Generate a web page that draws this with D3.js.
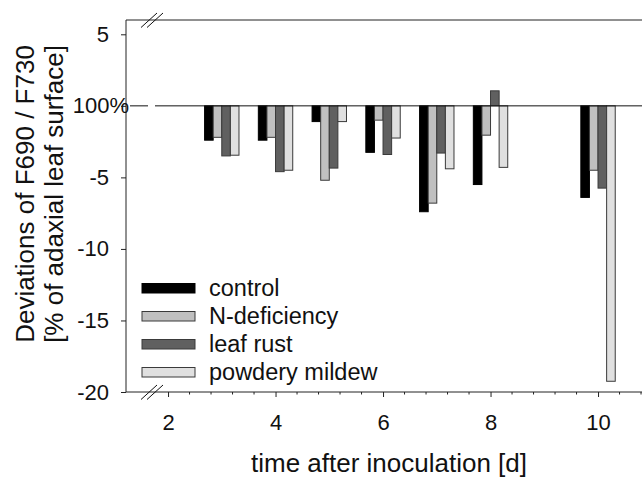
<html>
<head>
<script src="https://d3js.org/d3.v7.min.js"></script>
<style>
  body { margin: 0; background: #fff; }
  text { font-family: "Liberation Sans", Arial, Helvetica, sans-serif; fill: #111; }
</style>
</head>
<body>
<svg width="642" height="477"></svg>
<script>
    // days after inoculation and the four treatments
    const days = [3, 4, 5, 6, 7, 8, 10];
    const seriesNames = ["control", "N-deficiency", "leaf rust", "powdery mildew"];
    const control       = [-2.4, -2.4, -1.1, -3.25, -7.4, -5.5, -6.4];
    const nDeficiency   = [-2.2, -2.2, -5.2, -1.0, -6.8, -2.05, -4.5];
    const leafRust      = [-3.5, -4.6, -4.35, -3.4, -3.3, 1.05, -5.75];
    const powderyMildew = [-3.45, -4.5, -1.1, -2.25, -4.4, -4.3, -19.25];
    const colors = ["#000000", "#c0c0c0", "#606060", "#e0e0e0"];

    const yTicks = [5, 0, -5, -10, -15, -20];
    const yTickLabels = ["5", "100%", "-5", "-10", "-15", "-20"];
    const xTicks = [2, 4, 6, 8, 10];

    const values = [control, nDeficiency, leafRust, powderyMildew];

    const pLeft = 126, pRight = 642, pTop = 20, pBottom = 392;

    const x = d3.scaleLinear().domain([1.218, 10.818]).range([pLeft, pRight]);
    const y = d3.scaleLinear().domain([-20, 6]).range([pBottom, pTop]);
    const band = d3.scaleBand().domain(seriesNames).range([-0.32, 0.32]);

    const svg = d3.select("svg");

    const bars = [];
    days.forEach((d, i) => {
        seriesNames.forEach((s, j) => bars.push({day: d, series: s, idx: j, value: values[j][i]}));
    });

    // bars
    svg.append("g")
        .selectAll("rect")
        .data(bars)
        .enter()
        .append("rect")
        .attr("x", d => x(d.day + band(d.series)))
        .attr("width", d => x(d.day + band(d.series) + band.bandwidth()) - x(d.day + band(d.series)))
        .attr("y", d => y(Math.max(0, d.value)))
        .attr("height", d => Math.abs(y(d.value) - y(0)))
        .attr("fill", d => colors[d.idx])
        .attr("stroke", d => d.idx === 0 ? "#000" : "#3a3a3a")
        .attr("stroke-width", 1);

    // zero line (broken just right of the label)
    const zl = svg.append("g").attr("stroke", "#111").attr("stroke-width", 1);
    zl.append("line").attr("x1", 130).attr("x2", 148).attr("y1", y(0)).attr("y2", y(0));
    zl.append("line").attr("x1", 155).attr("x2", pRight).attr("y1", y(0)).attr("y2", y(0));

    // frame
    const frame = svg.append("g").attr("stroke", "#222").attr("stroke-width", 1).attr("fill", "none");
    frame.append("line").attr("x1", pLeft).attr("x2", pRight).attr("y1", pTop).attr("y2", pTop);
    frame.append("line").attr("x1", pLeft).attr("x2", pLeft).attr("y1", pTop).attr("y2", pBottom);
    frame.append("line").attr("x1", pLeft).attr("x2", pRight).attr("y1", pBottom).attr("y2", pBottom);

    // axis break marks
    [pTop, pBottom].forEach(yy => {
        [141, 147].forEach(xx => {
            frame.append("line")
                .attr("x1", xx).attr("y1", yy + 7.5)
                .attr("x2", xx + 16).attr("y2", yy - 7)
                .attr("stroke", "#111");
        });
    });

    // y axis
    const yAxis = svg.append("g")
        .attr("transform", `translate(${pLeft},0)`)
        .call(d3.axisLeft(y).tickValues(yTicks).tickSize(5).tickPadding(12)
            .tickFormat((d, i) => yTickLabels[i]));
    yAxis.select(".domain").remove();
    yAxis.selectAll("text")
        .style("font-size", "22px")
        .attr("fill", "#111")
        .filter(d => d === 0).attr("x", 3);
    yAxis.selectAll("line").attr("stroke", "#222");

    // x axis
    const xAxis = svg.append("g")
        .attr("transform", `translate(0,${pBottom})`)
        .call(d3.axisBottom(x).tickValues(xTicks).tickSize(5).tickPadding(17));
    xAxis.select(".domain").remove();
    xAxis.selectAll("text").style("font-size", "22px").attr("fill", "#111");
    xAxis.selectAll("line").attr("stroke", "#222");

    const minor = d3.range(2, 10.81, 0.4).filter(v => Math.abs(v / 2 - Math.round(v / 2)) > 0.01);
    svg.append("g")
        .selectAll("line")
        .data(minor)
        .enter()
        .append("line")
        .attr("x1", d => x(d)).attr("x2", d => x(d))
        .attr("y1", pBottom).attr("y2", pBottom + 2.5)
        .attr("stroke", "#222");

    // legend
    const legend = svg.append("g")
        .selectAll("g")
        .data(seriesNames)
        .enter()
        .append("g")
        .attr("transform", (d, i) => `translate(142,${288 + i * 28})`);
    legend.append("rect")
        .attr("x", 0).attr("y", -4.5)
        .attr("width", 53).attr("height", 9.5)
        .attr("fill", (d, i) => colors[i])
        .attr("stroke", (d, i) => i === 0 ? "#000" : "#3a3a3a");
    legend.append("text")
        .attr("x", 67).attr("y", 7.5)
        .style("font-size", "23.5px")
        .text(d => d);

    // axis titles
    svg.append("text")
        .attr("x", 389).attr("y", 472)
        .attr("text-anchor", "middle")
        .style("font-size", "26px")
        .text("time after inoculation [d]");

    const yt = svg.append("text")
        .attr("transform", "translate(34,194) rotate(-90)")
        .attr("text-anchor", "middle")
        .style("font-size", "26px");
    yt.append("tspan").attr("x", 0).attr("y", 0).text("Deviations of F690 / F730");
    yt.append("tspan").attr("x", 0).attr("y", 29).text("[% of adaxial leaf surface]");
</script>
</body>
</html>
